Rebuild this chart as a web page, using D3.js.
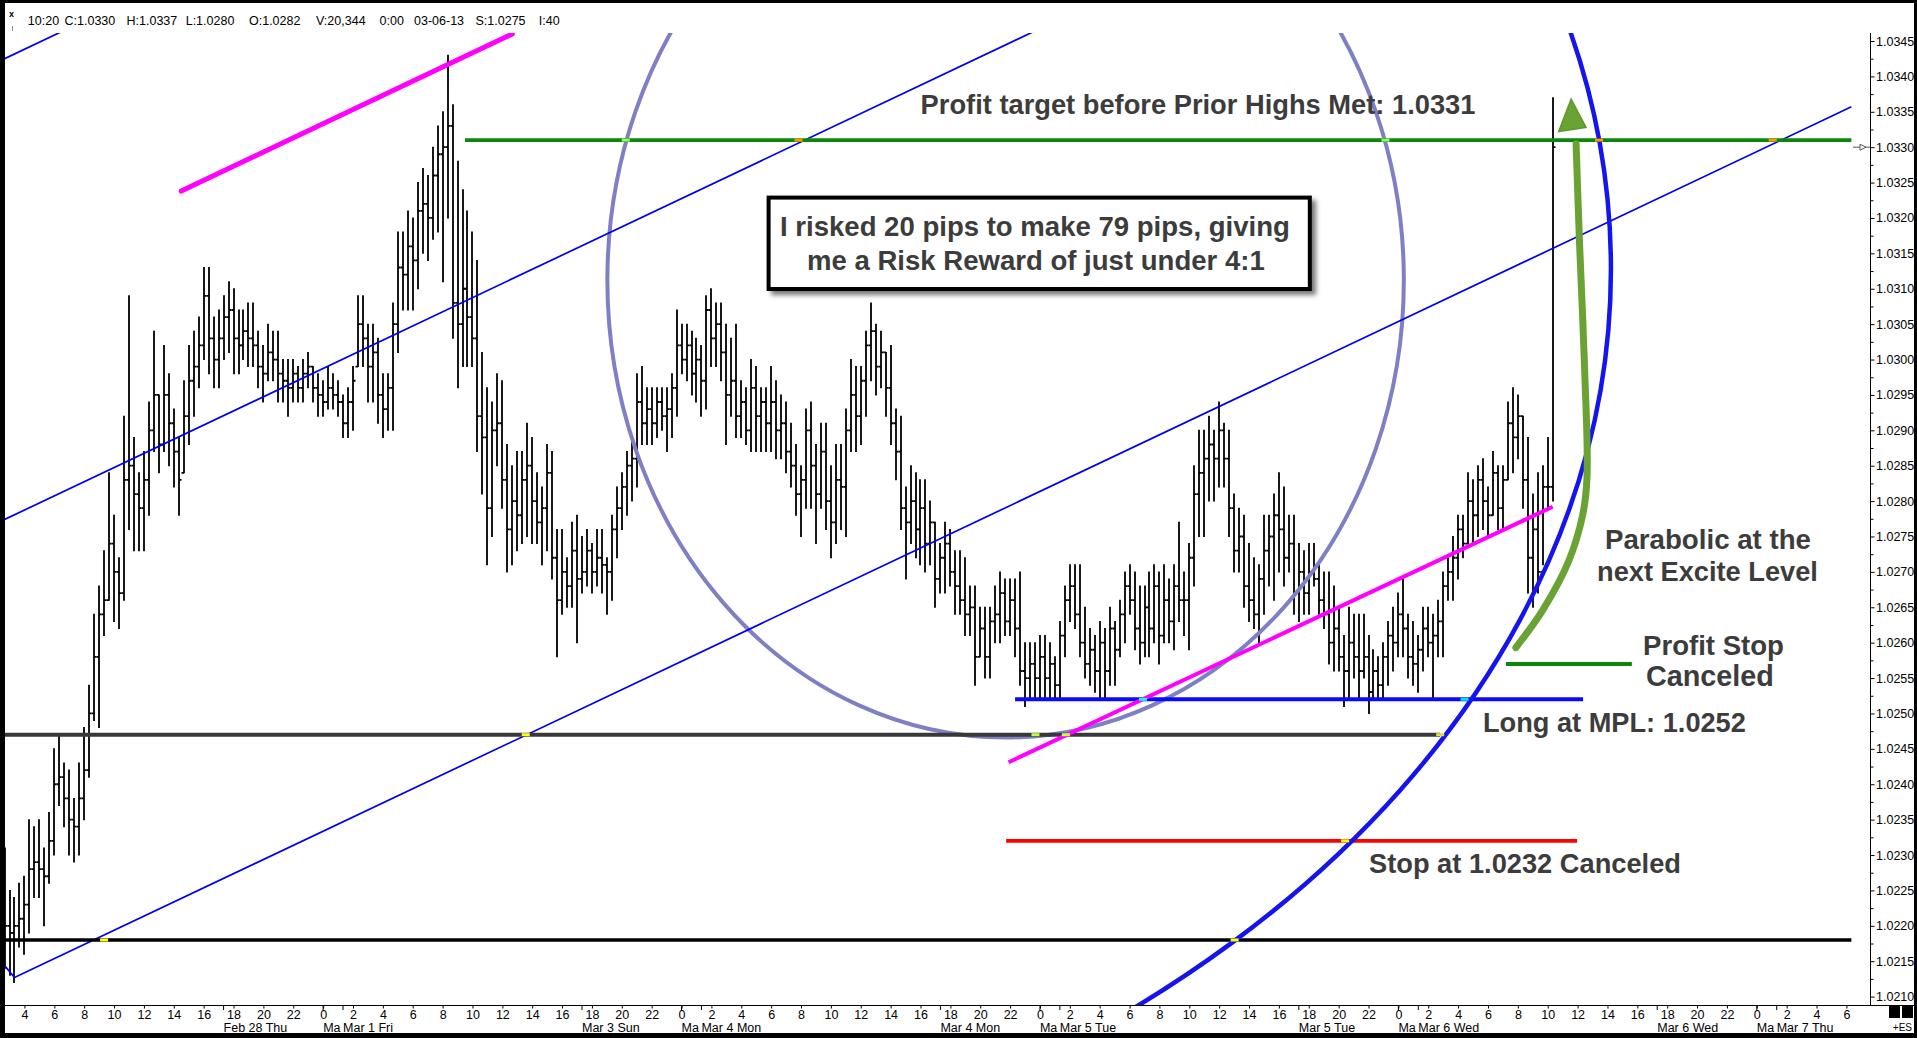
<!DOCTYPE html>
<html><head><meta charset="utf-8">
<script src="https://cdn.jsdelivr.net/npm/d3@7"></script>
<style>
html,body{margin:0;padding:0;background:#fff;overflow:hidden}
svg{display:block}
text{font-family:"Liberation Sans",Arial,Helvetica,sans-serif}
</style></head><body>
<svg id="chart" width="1917" height="1038"></svg>
<script>
// ---------------- DATA ----------------
// 20-minute OHLC bars; slot index of first bar (slot 0 = Feb 28 04:00, compressed session time)
const firstSlot = -4;
const highs = [
1.0231,1.0225,1.0224,1.0226,1.0227,
1.0235,1.0234,1.0235,1.0231,1.0236,1.0245,1.0247,1.0243,1.0242,1.0238,
1.0243,1.0248,1.0254,1.0264,1.0268,1.0273,1.0284,1.0278,1.0272,1.0292,
1.0309,1.0289,1.0284,1.0287,1.0294,1.0304,1.0295,1.0302,1.0298,1.0293,
1.0289,1.0297,1.0302,1.0304,1.0306,1.0313,1.0313,1.0306,1.0307,1.0309,
1.0311,1.0310,1.0307,1.0307,1.0308,1.0308,1.0304,1.0302,1.0305,1.0304,
1.0304,1.0300,1.0300,1.0300,1.0299,1.0300,1.0301,1.0299,1.0298,1.0297,
1.0299,1.0298,1.0297,1.0295,1.0296,1.0299,1.0309,1.0309,1.0305,1.0305,
1.0303,1.0298,1.0298,1.0308,1.0318,1.0318,1.0321,1.0320,1.0325,1.0327,
1.0326,1.0330,1.0333,1.0335,1.0343,1.0336,1.0328,1.0324,1.0321,1.0318,
1.0314,1.0301,1.0296,1.0294,1.0298,1.0297,1.0288,1.0285,1.0287,1.0287,
1.0291,1.0289,1.0284,1.0282,1.0288,1.0287,1.0276,1.0276,1.0272,1.0277,
1.0278,1.0275,1.0276,1.0274,1.0276,1.0276,1.0272,1.0278,1.0282,1.0284,
1.0287,1.0289,1.0298,1.0299,1.0296,1.0296,1.0296,1.0296,1.0296,1.0298,
1.0307,1.0305,1.0305,1.0304,1.0303,1.0302,1.0309,1.0310,1.0308,1.0308,
1.0305,1.0303,1.0305,1.0297,1.0296,1.0300,1.0299,1.0296,1.0296,1.0299,
1.0297,1.0295,1.0294,1.0291,1.0288,1.0285,1.0293,1.0294,1.0288,1.0291,
1.0291,1.0285,1.0288,1.0288,1.0293,1.0300,1.0299,1.0299,1.0304,1.0308,
1.0305,1.0304,1.0301,1.0302,1.0293,1.0292,1.0282,1.0285,1.0284,1.0283,
1.0283,1.0280,1.0277,1.0274,1.0277,1.0276,1.0273,1.0273,1.0272,1.0268,
1.0268,1.0265,1.0265,1.0265,1.0268,1.0270,1.0269,1.0269,1.0269,1.0270,
1.0260,1.0260,1.0260,1.0261,1.0261,1.0260,1.0258,1.0263,1.0268,1.0271,
1.0271,1.0271,1.0265,1.0262,1.0261,1.0263,1.0262,1.0265,1.0263,1.0266,
1.0270,1.0271,1.0270,1.0268,1.0268,1.0270,1.0271,1.0270,1.0271,1.0269,
1.0271,1.0277,1.0270,1.0274,1.0285,1.0290,1.0290,1.0292,1.0290,1.0294,
1.0291,1.0290,1.0281,1.0279,1.0278,1.0274,1.0272,1.0271,1.0278,1.0278,
1.0281,1.0284,1.0282,1.0278,1.0278,1.0274,1.0273,1.0274,1.0274,1.0271,
1.0270,1.0270,1.0268,1.0265,1.0261,1.0265,1.0264,1.0264,1.0264,1.0261,
1.0259,1.0258,1.0260,1.0263,1.0265,1.0267,1.0269,1.0264,1.0263,1.0261,
1.0265,1.0265,1.0264,1.0266,1.0270,1.0272,1.0275,1.0278,1.0278,1.0284,
1.0283,1.0285,1.0286,1.0282,1.0287,1.0285,1.0285,1.0294,1.0296,1.0295,
1.0292,1.0289,1.0281,1.0284,1.0285,1.0289,1.0337];
const lows = [
1.0214,1.0213,1.0212,1.0217,1.0216,
1.0219,1.0224,1.0224,1.0220,1.0226,1.0230,1.0237,1.0234,1.0230,1.0229,
1.0230,1.0235,1.0241,1.0249,1.0248,1.0261,1.0266,1.0263,1.0262,1.0266,
1.0276,1.0273,1.0273,1.0273,1.0278,1.0287,1.0284,1.0287,1.0285,1.0282,
1.0278,1.0284,1.0288,1.0292,1.0296,1.0300,1.0298,1.0296,1.0296,1.0300,
1.0301,1.0298,1.0298,1.0300,1.0299,1.0299,1.0296,1.0294,1.0297,1.0297,
1.0294,1.0294,1.0292,1.0294,1.0294,1.0294,1.0296,1.0294,1.0292,1.0292,
1.0293,1.0293,1.0292,1.0289,1.0289,1.0290,1.0299,1.0299,1.0294,1.0294,
1.0291,1.0289,1.0290,1.0290,1.0301,1.0307,1.0307,1.0307,1.0310,1.0315,
1.0314,1.0317,1.0318,1.0311,1.0320,1.0303,1.0296,1.0299,1.0299,1.0299,
1.0287,1.0281,1.0271,1.0275,1.0285,1.0279,1.0270,1.0271,1.0273,1.0274,
1.0275,1.0274,1.0274,1.0271,1.0273,1.0269,1.0258,1.0264,1.0265,1.0265,
1.0260,1.0267,1.0268,1.0267,1.0268,1.0267,1.0264,1.0266,1.0272,1.0276,
1.0278,1.0280,1.0282,1.0288,1.0288,1.0288,1.0289,1.0290,1.0287,1.0289,
1.0292,1.0298,1.0297,1.0295,1.0294,1.0292,1.0293,1.0299,1.0299,1.0297,
1.0288,1.0292,1.0289,1.0289,1.0288,1.0287,1.0287,1.0287,1.0287,1.0287,
1.0286,1.0286,1.0284,1.0282,1.0278,1.0275,1.0279,1.0279,1.0274,1.0279,
1.0276,1.0272,1.0274,1.0276,1.0275,1.0287,1.0287,1.0288,1.0292,1.0297,
1.0295,1.0296,1.0292,1.0288,1.0283,1.0276,1.0269,1.0274,1.0272,1.0271,
1.0270,1.0271,1.0265,1.0267,1.0267,1.0268,1.0264,1.0264,1.0261,1.0261,
1.0254,1.0258,1.0255,1.0255,1.0260,1.0260,1.0261,1.0261,1.0258,1.0254,
1.0251,1.0252,1.0252,1.0252,1.0252,1.0252,1.0252,1.0252,1.0258,1.0263,
1.0262,1.0258,1.0255,1.0254,1.0253,1.0252,1.0252,1.0254,1.0254,1.0258,
1.0260,1.0264,1.0259,1.0257,1.0258,1.0258,1.0260,1.0257,1.0260,1.0260,
1.0259,1.0263,1.0261,1.0259,1.0268,1.0275,1.0275,1.0280,1.0280,1.0282,
1.0282,1.0275,1.0270,1.0270,1.0265,1.0263,1.0262,1.0260,1.0264,1.0268,
1.0266,1.0270,1.0268,1.0270,1.0264,1.0263,1.0264,1.0264,1.0268,1.0264,
1.0262,1.0257,1.0256,1.0256,1.0251,1.0252,1.0255,1.0252,1.0255,1.0250,
1.0252,1.0252,1.0252,1.0254,1.0256,1.0258,1.0258,1.0255,1.0254,1.0253,
1.0256,1.0258,1.0252,1.0258,1.0258,1.0266,1.0266,1.0269,1.0272,1.0274,
1.0274,1.0275,1.0276,1.0275,1.0278,1.0276,1.0276,1.0283,1.0284,1.0286,
1.0279,1.0267,1.0265,1.0267,1.0271,1.0279,1.0280];
const opens = [
1.0225,
1.0220,1.0219,1.0220,1.0221,1.0223,
1.0228,1.0229,1.0228,1.0227,1.0232,1.0240,1.0241,1.0238,1.0235,1.0234,
1.0238,1.0242,1.0250,1.0258,1.0264,1.0266,1.0274,1.0270,1.0267,1.0283,
1.0285,1.0281,1.0279,1.0283,1.0290,1.0295,1.0288,1.0295,1.0291,1.0287,
1.0284,1.0292,1.0297,1.0299,1.0302,1.0309,1.0303,1.0300,1.0303,1.0306,
1.0307,1.0303,1.0302,1.0304,1.0303,1.0302,1.0299,1.0298,1.0301,1.0300,
1.0298,1.0297,1.0296,1.0298,1.0296,1.0298,1.0299,1.0296,1.0295,1.0294,
1.0296,1.0295,1.0294,1.0291,1.0294,1.0299,1.0305,1.0303,1.0299,1.0301,
1.0295,1.0293,1.0296,1.0305,1.0313,1.0312,1.0316,1.0314,1.0321,1.0322,
1.0320,1.0326,1.0329,1.0330,1.0333,1.0308,1.0305,1.0310,1.0306,1.0303,
1.0292,1.0289,1.0279,1.0290,1.0291,1.0283,1.0276,1.0280,1.0278,1.0283,
1.0285,1.0280,1.0277,1.0279,1.0284,1.0272,1.0266,1.0270,1.0268,1.0273,
1.0269,1.0270,1.0273,1.0270,1.0272,1.0271,1.0270,1.0276,1.0279,1.0282,
1.0285,1.0286,1.0294,1.0291,1.0293,1.0291,1.0294,1.0292,1.0293,1.0296,
1.0302,1.0300,1.0302,1.0298,1.0300,1.0297,1.0307,1.0303,1.0305,1.0301,
1.0295,1.0297,1.0292,1.0294,1.0290,1.0296,1.0292,1.0294,1.0291,1.0294,
1.0290,1.0291,1.0287,1.0285,1.0281,1.0283,1.0290,1.0285,1.0281,1.0287,
1.0280,1.0277,1.0283,1.0282,1.0290,1.0295,1.0292,1.0297,1.0302,1.0304,
1.0299,1.0301,1.0296,1.0291,1.0287,1.0279,1.0277,1.0280,1.0276,1.0279,
1.0274,1.0277,1.0269,1.0272,1.0274,1.0270,1.0268,1.0266,1.0264,1.0265,
1.0258,1.0262,1.0258,1.0263,1.0264,1.0267,1.0263,1.0266,1.0262,1.0256,
1.0255,1.0257,1.0255,1.0258,1.0255,1.0257,1.0254,1.0261,1.0266,1.0268,
1.0264,1.0260,1.0257,1.0259,1.0256,1.0260,1.0256,1.0262,1.0259,1.0264,
1.0268,1.0266,1.0262,1.0260,1.0265,1.0262,1.0268,1.0261,1.0266,1.0263,
1.0268,1.0266,1.0266,1.0272,1.0281,1.0284,1.0286,1.0288,1.0286,1.0290,
1.0286,1.0279,1.0273,1.0275,1.0268,1.0266,1.0264,1.0269,1.0273,1.0275,
1.0278,1.0276,1.0272,1.0274,1.0267,1.0270,1.0267,1.0270,1.0269,1.0266,
1.0264,1.0260,1.0262,1.0258,1.0256,1.0260,1.0258,1.0256,1.0258,1.0253,
1.0256,1.0254,1.0258,1.0261,1.0260,1.0264,1.0262,1.0258,1.0257,1.0259,
1.0262,1.0260,1.0261,1.0263,1.0268,1.0270,1.0272,1.0276,1.0274,1.0280,
1.0278,1.0283,1.0280,1.0278,1.0284,1.0279,1.0283,1.0291,1.0289,1.0292,
1.0283,1.0272,1.0276,1.0270,1.0282,1.0282];
const closes = [
1.0220,1.0219,1.0220,1.0221,1.0223,
1.0228,1.0229,1.0228,1.0227,1.0232,1.0240,1.0241,1.0238,1.0235,1.0234,
1.0238,1.0242,1.0250,1.0258,1.0264,1.0266,1.0274,1.0270,1.0267,1.0283,
1.0285,1.0281,1.0279,1.0283,1.0290,1.0295,1.0288,1.0295,1.0291,1.0287,
1.0283,1.0292,1.0297,1.0299,1.0302,1.0309,1.0303,1.0300,1.0303,1.0306,
1.0307,1.0303,1.0302,1.0304,1.0303,1.0302,1.0299,1.0298,1.0301,1.0300,
1.0298,1.0297,1.0296,1.0298,1.0296,1.0298,1.0299,1.0296,1.0295,1.0294,
1.0296,1.0295,1.0294,1.0291,1.0294,1.0297,1.0305,1.0303,1.0299,1.0301,
1.0295,1.0293,1.0296,1.0305,1.0313,1.0312,1.0316,1.0314,1.0321,1.0322,
1.0320,1.0326,1.0329,1.0330,1.0333,1.0308,1.0305,1.0310,1.0306,1.0303,
1.0292,1.0289,1.0279,1.0290,1.0291,1.0283,1.0276,1.0280,1.0278,1.0283,
1.0285,1.0280,1.0277,1.0279,1.0284,1.0272,1.0266,1.0270,1.0268,1.0273,
1.0269,1.0270,1.0273,1.0270,1.0272,1.0271,1.0270,1.0276,1.0279,1.0282,
1.0285,1.0286,1.0294,1.0291,1.0293,1.0291,1.0294,1.0292,1.0293,1.0296,
1.0302,1.0300,1.0302,1.0298,1.0300,1.0297,1.0307,1.0303,1.0305,1.0301,
1.0295,1.0297,1.0292,1.0294,1.0290,1.0296,1.0292,1.0294,1.0291,1.0294,
1.0290,1.0291,1.0287,1.0285,1.0281,1.0283,1.0290,1.0285,1.0281,1.0287,
1.0280,1.0277,1.0283,1.0282,1.0290,1.0295,1.0292,1.0297,1.0302,1.0304,
1.0299,1.0301,1.0296,1.0291,1.0287,1.0279,1.0277,1.0280,1.0276,1.0279,
1.0274,1.0277,1.0269,1.0272,1.0274,1.0270,1.0268,1.0266,1.0264,1.0265,
1.0258,1.0262,1.0258,1.0263,1.0264,1.0267,1.0263,1.0266,1.0262,1.0256,
1.0255,1.0257,1.0255,1.0258,1.0255,1.0257,1.0254,1.0261,1.0266,1.0268,
1.0264,1.0260,1.0257,1.0259,1.0256,1.0260,1.0256,1.0262,1.0259,1.0264,
1.0268,1.0266,1.0262,1.0260,1.0265,1.0262,1.0268,1.0261,1.0266,1.0263,
1.0268,1.0266,1.0266,1.0272,1.0281,1.0284,1.0286,1.0288,1.0286,1.0290,
1.0286,1.0279,1.0273,1.0275,1.0268,1.0266,1.0264,1.0269,1.0273,1.0275,
1.0278,1.0276,1.0272,1.0274,1.0267,1.0270,1.0267,1.0270,1.0269,1.0266,
1.0264,1.0260,1.0262,1.0258,1.0256,1.0260,1.0258,1.0256,1.0258,1.0253,
1.0256,1.0254,1.0258,1.0261,1.0260,1.0264,1.0262,1.0258,1.0257,1.0259,
1.0262,1.0260,1.0261,1.0263,1.0268,1.0270,1.0272,1.0276,1.0274,1.0280,
1.0278,1.0283,1.0280,1.0278,1.0284,1.0279,1.0283,1.0291,1.0289,1.0292,
1.0283,1.0272,1.0276,1.0270,1.0282,1.0282,1.0330];

// axis labels
const hourLabels = [4,6,8,10,12,14,16,18,20,22, 0,2,4,6,8,10,12,14,16, 18,20,22,
  0,2,4,6,8,10,12,14,16, 18,20,22, 0,2,4,6,8,10,12,14,16, 18,20,22,
  0,2,4,6,8,10,12,14,16, 18,20,22, 0,2,4,6];
const dateLabels = ["Feb 28 Thu","Ma","Mar 1 Fri","Mar 3 Sun","Ma","Mar 4 Mon","Mar 4 Mon","Ma","Mar 5 Tue",
  "Mar 5 Tue","Ma","Mar 6 Wed","Mar 6 Wed","Ma","Mar 7 Thu"];
const dateSlots = [40,60,64,112,132,136,184,204,208,256,276,280,328,348,352];
const priceTicks = [1.0210,1.0215,1.0220,1.0225,1.0230,1.0235,1.0240,1.0245,1.0250,1.0255,1.0260,1.0265,
  1.0270,1.0275,1.0280,1.0285,1.0290,1.0295,1.0300,1.0305,1.0310,1.0315,1.0320,1.0325,1.0330,1.0335,1.0340,1.0345];

// header quote values
const headerItems = ["10:20","C:1.0330","H:1.0337","L:1.0280","O:1.0282","V:20,344","0:00","03-06-13","S:1.0275","I:40"];

// levels: [price, fromSlot, toSlot]
const profitTargetLevel = [1.0331, 88.5, 367];
const priorLevel = [1.0247, -5, 284.4];
const baseLevel = [1.0218, -5, 367];
const mplLevel = [1.0252, 199, 313.1];
const stopLevel = [1.0232, 197.2, 311.9];
const profitStopLevel = [1.0257, 297.6, 322.9];
const lastPrice = 1.0330;

// channel lines [slot, price]
const channelA = [[-3.9, 1.02143], [-2, 1.02127], [367, 1.03357]];
const channelB = [[-4, 1.02774], [367, 1.04011]];
const channelC = [[-4, 1.03425], [367, 1.04662]];
const magentaUpper = [[31.5, 1.03238], [98, 1.0346]];
const magentaLower = [[197.7, 1.02431], [307, 1.02792]];
// ellipses: [centerSlot, centerPrice, radiusSlots, radiusPrice]
const purpleCircle = [197.1, 1.03112, 80, 0.00646];
const blueCircle = [58.4, 1.03128, 260.3, 0.01347];
// curved arrow
const arrowPath = [[299.6,1.02593],[305.0,1.02646],[310.2,1.02715],[313.1,1.02783],[313.9,1.02835],
  [313.4,1.0299],[312.4,1.03163],[311.7,1.03305]];
const arrowHead = [[308.2,1.03322],[310.7,1.03368],[313.7,1.03328]];
// intersection markers
const markerPts = [[16,1.0218],[100.7,1.0247],[243.1,1.0218],[265.3,1.0232],[284.4,1.0247],
  [224.7,1.0252],[289.3,1.0252],[120.8,1.0331],[155.5,1.0331],[273.4,1.0331],[316.3,1.0331],[351.2,1.0331],
  [203.1,1.0247],[209.2,1.0247]];

// annotations
const titleNote = "Profit target before Prior Highs Met: 1.0331";
const boxLines = ["I risked 20 pips to make 79 pips, giving", "me a Risk Reward of just under 4:1"];
const parabolicNote = ["Parabolic at the", "next Excite Level"];
const profitStopNote = ["Profit Stop", "Canceled"];
const mplNote = "Long at MPL: 1.0252";
const stopNote = "Stop at 1.0232 Canceled";

// ---------------- DRAW ----------------
const W = 1917, H = 1038;
const svg = d3.select('#chart');
const FONT = '"Liberation Sans",Arial,Helvetica,sans-serif';

svg.append('rect').attr('width', W).attr('height', H).attr('fill', '#000');
svg.append('rect').attr('x', 5).attr('y', 3).attr('width', 1909).attr('height', 1030).attr('fill', '#fff');

const x = d3.scaleLinear().domain([0, 366]).range([24.45, 24.45 + 366 * 4.978]);
const y = d3.scaleLinear().domain([1.0210, 1.0345]).range([996.6, 41.0]);

const plot = {left: 5, right: 1853, top: 33, bottom: 1005};
const defs = svg.append('defs');
defs.append('clipPath').attr('id', 'clip').append('rect')
  .attr('x', plot.left).attr('y', plot.top).attr('width', plot.right - plot.left).attr('height', plot.bottom - plot.top);
const blur = defs.append('filter').attr('id', 'shadow').attr('x', '-10%').attr('y', '-30%').attr('width', '120%').attr('height', '160%');
blur.append('feGaussianBlur').attr('stdDeviation', 2.5);

const g = svg.append('g').attr('clip-path', 'url(#clip)');

// OHLC bars
const bars = highs.map((h, i) => ({s: firstSlot + i, h, l: lows[i], o: opens[i], c: closes[i]}));
g.append('g').selectAll('path').data(bars).join('path')
  .attr('d', d => {
    const cx = Math.round(x(d.s));
    return `M${cx},${y(d.h) - 0.5}V${y(d.l) + 0.5}M${cx - 2.5},${y(d.o)}H${cx}M${cx},${y(d.c)}H${cx + 2.5}`;
  })
  .attr('stroke', '#000').attr('stroke-width', 1.8).attr('fill', 'none');

const line = d3.line().x(d => x(d[0])).y(d => y(d[1]));

// ellipses
function ellipse(c, color, w) {
  g.append('ellipse')
    .attr('cx', x(c[0])).attr('cy', y(c[1]))
    .attr('rx', x(c[0] + c[2]) - x(c[0])).attr('ry', y(c[1] - c[3]) - y(c[1]))
    .attr('fill', 'none').attr('stroke', color).attr('stroke-width', w);
}
ellipse(purpleCircle, '#7f80c4', 4);

// channel lines
[channelA, channelB, channelC].forEach(pts => {
  g.append('path').attr('d', line(pts)).attr('fill', 'none').attr('stroke', '#0000f0').attr('stroke-width', 1.7);
});

// horizontal levels
function level(lv, color, w) {
  g.append('line').attr('x1', x(lv[1])).attr('x2', x(lv[2])).attr('y1', y(lv[0])).attr('y2', y(lv[0]))
    .attr('stroke', color).attr('stroke-width', w);
}
level(priorLevel, '#383838', 4);
level(baseLevel, '#000', 3.6);
level(profitTargetLevel, '#0b870b', 3.6);
level(mplLevel, '#0a0aff', 4);
level(stopLevel, '#ff0000', 3.6);
level(profitStopLevel, '#0b870b', 4);

// magenta lines
g.append('path').attr('d', line(magentaUpper)).attr('stroke', '#ff00ff').attr('stroke-width', 5).attr('stroke-linecap', 'round');
g.append('path').attr('d', line(magentaLower)).attr('stroke', '#ff00ff').attr('stroke-width', 4);

ellipse(blueCircle, '#1414ee', 4.5);

// intersection markers
const markerColors = ['#ffff00','#ffff00','#ffff00','#ffff00','#e0e040','#00ffff','#00e0ff','#90ff60','#ff9900','#90ff60','#ff9900','#ff9900','#c0ff40','#c0ff40'];
g.append('g').selectAll('rect').data(markerPts).join('rect')
  .attr('x', d => x(d[0]) - 4).attr('y', d => y(d[1]) - 1.5).attr('width', 8).attr('height', 3)
  .attr('fill', (d, i) => markerColors[i]);

// green curved arrow
g.append('path').attr('d', d3.line().x(d => x(d[0])).y(d => y(d[1])).curve(d3.curveCatmullRom)(arrowPath))
  .attr('fill', 'none').attr('stroke', '#6aa333').attr('stroke-width', 7).attr('stroke-linecap', 'round');
g.append('path').attr('d', line(arrowHead) + 'Z').attr('fill', '#6aa333').attr('stroke', '#5d9a2a').attr('stroke-width', 1.5);

// last price marker on axis
const lpY = y(lastPrice);
svg.append('line').attr('x1', 1853).attr('x2', 1870).attr('y1', lpY).attr('y2', lpY).attr('stroke', '#555').attr('stroke-width', 1);
svg.append('path').attr('d', `M1860,${lpY - 3}L1866,${lpY}L1860,${lpY + 3}Z`).attr('fill', '#fff').attr('stroke', '#555').attr('stroke-width', 1);

// ---------- axes ----------
// right price axis
svg.append('line').attr('x1', 1870.5).attr('x2', 1870.5).attr('y1', plot.top).attr('y2', plot.bottom).attr('stroke', '#000').attr('stroke-width', 1);
const yAxis = svg.append('g').attr('transform', 'translate(1870.5,0)')
  .call(d3.axisRight(y).tickValues(priceTicks).tickFormat(d => d.toFixed(4)).tickSize(4).tickPadding(1.5));
yAxis.select('.domain').remove();
yAxis.selectAll('text').attr('font-size', 12.5).attr('font-family', FONT).attr('fill', '#000');
const yMinor = svg.append('g').attr('transform', 'translate(1870.5,0)')
  .call(d3.axisRight(y).tickValues(priceTicks.slice(1).map(v => v - 0.00025)).tickFormat('').tickSize(3));
yMinor.select('.domain').remove();

// bottom time axis
svg.append('line').attr('x1', 5).attr('x2', 1914).attr('y1', 1005.5).attr('y2', 1005.5).attr('stroke', '#000').attr('stroke-width', 1);
const tickSlots = hourLabels.map((_, i) => i * 6);
const xAxis = svg.append('g').attr('transform', 'translate(0,1005.5)')
  .call(d3.axisBottom(x).tickValues(tickSlots).tickFormat((d, i) => hourLabels[i]).tickSize(3).tickPadding(1.5));
xAxis.select('.domain').remove();
xAxis.selectAll('text').attr('font-size', 12.5).attr('font-family', FONT).attr('fill', '#000');
// date separators + labels
svg.append('g').selectAll('line').data(dateSlots).join('line')
  .attr('x1', d => x(d)).attr('x2', d => x(d)).attr('y1', 1005.5).attr('y2', 1010)
  .attr('stroke', '#000').attr('stroke-width', 1);
svg.append('g').selectAll('text').data(dateLabels).join('text')
  .attr('x', (d, i) => x(dateSlots[i])).attr('y', 1031.5)
  .attr('font-size', 12.5).attr('font-family', FONT).attr('fill', '#000').text(d => d);

// corner squares and +ES
svg.append('rect').attr('x', 1889).attr('y', 1006).attr('width', 11).attr('height', 12).attr('fill', '#000');
svg.append('rect').attr('x', 1902).attr('y', 1006).attr('width', 11).attr('height', 12).attr('fill', '#000');
svg.append('text').attr('x', 1912).attr('y', 1031).attr('text-anchor', 'end').attr('font-size', 10).attr('font-family', FONT).text('+ES');

// header
const headerX = [27.8, 64.5, 126.5, 185.7, 249, 316, 379.6, 414, 475.5, 538.8];
svg.append('g').selectAll('text').data(headerItems).join('text')
  .attr('x', (d, i) => headerX[i]).attr('y', 25).attr('font-size', 12.5).attr('font-family', FONT)
  .attr('fill', '#000').text(d => d);
svg.append('text').attr('x', 9).attr('y', 17).attr('font-size', 9).attr('font-weight', 'bold').attr('font-family', FONT).text('x');
svg.append('line').attr('x1', 12.5).attr('x2', 12.5).attr('y1', 26).attr('y2', 31).attr('stroke', '#888');

// ---------- annotations ----------
function fitText(str, x0, x1, cy, color) {
  const t = svg.append('text').text(str).attr('x', x0).attr('font-size', 24)
    .attr('font-weight', 'bold').attr('font-family', FONT).attr('fill', color || '#3c3c3c');
  const w = t.node().getComputedTextLength();
  const fs = 24 * (x1 - x0) / w;
  t.attr('font-size', fs).attr('y', cy + 0.36 * fs);
  return t;
}
fitText(titleNote, 920.6, 1475.7, 104);

// box
svg.append('rect').attr('x', 771).attr('y', 200).attr('width', 545).attr('height', 95)
  .attr('fill', '#777').attr('filter', 'url(#shadow)');
svg.append('rect').attr('x', 768.6).attr('y', 197.6).attr('width', 541.2).attr('height', 91.4)
  .attr('fill', '#fff').attr('stroke', '#000').attr('stroke-width', 4);
fitText(boxLines[0], 780, 1290, 226);
fitText(boxLines[1], 807, 1265, 260.4);

fitText(parabolicNote[0], 1605, 1811, 539);
fitText(parabolicNote[1], 1597, 1818, 571);
fitText(profitStopNote[0], 1643, 1784, 645.5);
fitText(profitStopNote[1], 1646, 1774, 676);
fitText(mplNote, 1483, 1746, 722.5);
fitText(stopNote, 1369, 1681, 863);
</script>
</body></html>
